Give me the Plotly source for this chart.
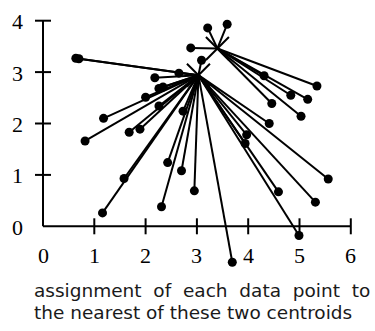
import plotly.graph_objects as go

# centroids
centroid_x = [3.03, 3.40]
centroid_y = [2.94, 3.46]

# points assigned to the upper centroid (index 1)
upper_x = [3.21, 3.59, 2.88, 4.31, 5.34, 4.83, 5.16, 4.46, 5.03]
upper_y = [3.86, 3.93, 3.47, 2.93, 2.73, 2.55, 2.47, 2.39, 2.14]

# points assigned to the lower centroid (index 0)
lower_x = [4.41, 3.97, 3.94, 5.56, 4.59, 5.31, 4.99, 3.69, 2.95, 2.70, 2.43, 2.31, 1.58, 1.16,
           0.82, 1.18, 1.68, 1.89, 2.26, 2.00, 2.73, 2.26, 2.34, 2.18, 2.65, 3.09, 0.64, 0.70]
lower_y = [2.00, 1.78, 1.61, 0.92, 0.67, 0.47, -0.18, -0.70, 0.69, 1.08, 1.24, 0.38, 0.93, 0.26,
           1.66, 2.10, 1.83, 1.89, 2.34, 2.51, 2.24, 2.68, 2.71, 2.89, 2.98, 3.23, 3.27, 3.26]

x_ticks = [0, 1, 2, 3, 4, 5, 6]
y_ticks = [0, 1, 2, 3, 4]
caption = ["assignment\u00a0\u00a0of\u00a0\u00a0each\u00a0\u00a0data\u00a0\u00a0point\u00a0\u00a0to",
           "the nearest of these two centroids"]

W, H = 375, 331
X0PX, XSCALE = 43.0, 51.3
Y0PX, YSCALE = 226.3, 51.4

def seg(cx, cy, xs, ys):
    sx, sy = [], []
    for px, py in zip(xs, ys):
        sx += [cx, px, None]
        sy += [cy, py, None]
    return sx, sy

fig = go.Figure()
ux, uy = seg(centroid_x[1], centroid_y[1], upper_x, upper_y)
lx, ly = seg(centroid_x[0], centroid_y[0], lower_x, lower_y)
for sx, sy in [(ux, uy), (lx, ly)]:
    fig.add_trace(go.Scatter(x=sx, y=sy, mode="lines",
                             line=dict(color="black", width=2), hoverinfo="skip"))
fig.add_trace(go.Scatter(x=upper_x + lower_x, y=upper_y + lower_y, mode="markers",
                         marker=dict(color="black", size=9)))
fig.add_trace(go.Scatter(x=centroid_x, y=centroid_y, mode="markers",
                         marker=dict(symbol="x-thin", size=23,
                                     line=dict(color="black", width=2))))

shapes = []
shapes.append(dict(type="line", xref="x", yref="y", x0=0, x1=max(x_ticks), y0=0, y1=0,
                   line=dict(color="black", width=2)))
shapes.append(dict(type="line", xref="x", yref="y", x0=0, x1=0, y0=0, y1=max(y_ticks),
                   line=dict(color="black", width=2)))
for t in x_ticks[1:]:
    shapes.append(dict(type="line", xref="x", yref="y", x0=t, x1=t, ysizemode="pixel",
                       yanchor=0, y0=-8, y1=8, line=dict(color="black", width=2)))
for t in y_ticks[1:]:
    shapes.append(dict(type="line", xref="x", yref="y", y0=t, y1=t, xsizemode="pixel",
                       xanchor=0, x0=-8, x1=8, line=dict(color="black", width=2)))

annotations = []
tick_font = dict(family="Liberation Serif", size=22, color="black")
for t in x_ticks:
    annotations.append(dict(x=t, y=0, xref="x", yref="y", text=str(t), showarrow=False,
                            xanchor="center", yanchor="middle", yshift=-29, font=tick_font))
for t in y_ticks:
    annotations.append(dict(x=0, y=t, xref="x", yref="y", text=str(t), showarrow=False,
                            xanchor="center", yanchor="middle", xshift=-26, yshift=-1,
                            font=tick_font))
cap_font = dict(family="DejaVu Sans", size=18.5, color="#1a1a1a")
for i, (line, ypx) in enumerate(zip(caption, [290, 312])):
    annotations.append(dict(x=32 / W, y=1 - ypx / H, xref="paper", yref="paper", text=line,
                            showarrow=False, xanchor="left", yanchor="middle", font=cap_font))

fig.update_layout(
    width=W, height=H, margin=dict(l=0, r=0, t=0, b=0),
    paper_bgcolor="white", plot_bgcolor="white", showlegend=False,
    xaxis=dict(range=[-X0PX / XSCALE, (W - X0PX) / XSCALE], visible=False, fixedrange=True),
    yaxis=dict(range=[(Y0PX - H) / YSCALE, Y0PX / YSCALE], visible=False, fixedrange=True),
    shapes=shapes, annotations=annotations,
)
fig.write_html("out.html")
